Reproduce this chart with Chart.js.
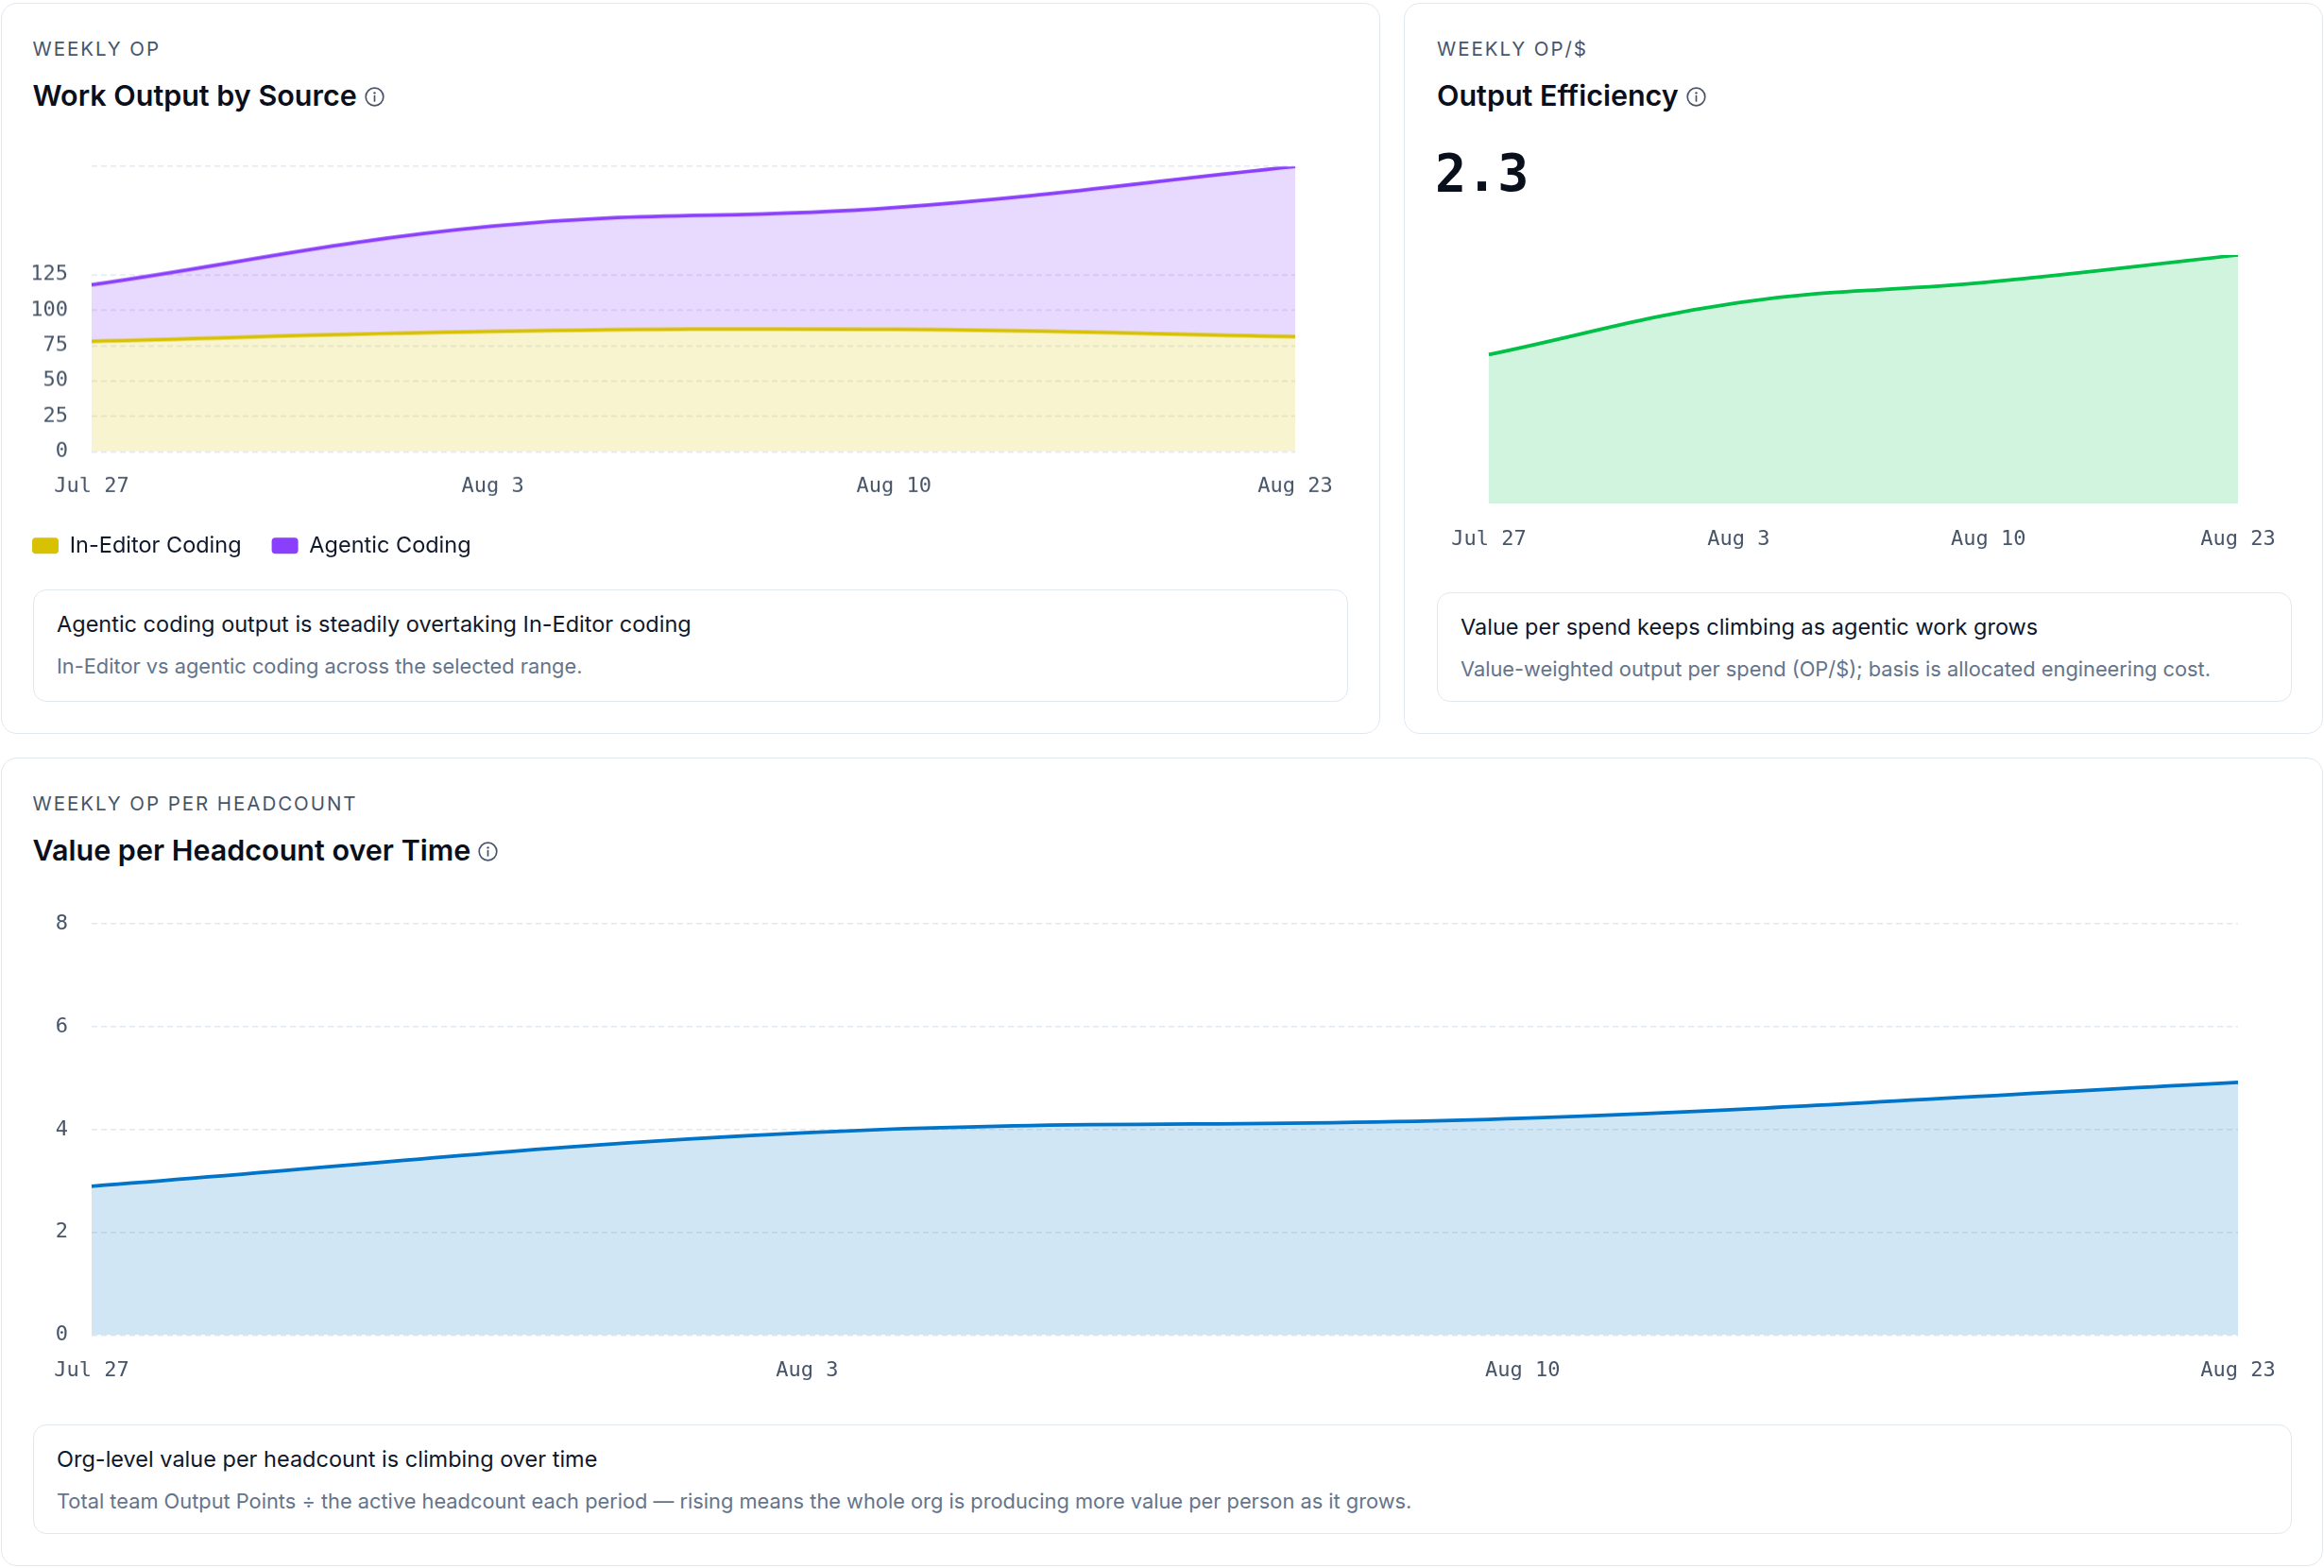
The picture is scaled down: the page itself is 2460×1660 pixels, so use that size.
<!DOCTYPE html>
<html>
<head>
<meta charset="utf-8">
<title>Weekly OP</title>
<script src="https://cdn.jsdelivr.net/npm/chart.js@4.4.1/dist/chart.umd.min.js"></script>
<style>
  html, body { margin: 0; padding: 0; background: #fff; }
  body { width: 2460px; height: 1660px; position: relative; overflow: hidden; font-family: Inter, "Noto Sans", sans-serif; }
  .card { position: absolute; box-sizing: border-box; border: 1.5px solid #e2e8f0; border-radius: 17px; background: #fff; }
  .abs { position: absolute; white-space: nowrap; line-height: normal; }
  .eyebrow { font-size: 20.5px; font-weight: 400; letter-spacing: 0.095em; color: #475569; }
  .title { font-size: 30.5px; font-weight: 600; color: #0a0f1c; display: flex; align-items: center; }
  .title svg { margin-left: 8px; transform: translateY(2px); }
  .insight { position: absolute; box-sizing: border-box; border: 1.5px solid #e2e8f0; border-radius: 14px; }
  .insight .head { left: 24.5px; top: 21px; font-size: 23.5px; color: #0f172a; }
  .insight .sub { left: 24.5px; top: 67px; font-size: 21.8px; color: #64748b; }
  .plot { position: absolute; }
  .big { font-family: "DejaVu Sans Mono", monospace; font-size: 55px; font-weight: 700; color: #0a0f1c; }
</style>
</head>
<body>

<div class="card" style="left:1px; top:3px; width:1460px; height:774px;"></div>
<div class="card" style="left:1486px; top:3px; width:973px; height:774px;"></div>
<div class="card" style="left:1px; top:802px; width:2458px; height:856px;"></div>

<!-- work output by source -->
<div class="abs eyebrow" style="left:34.5px; top:39px;">WEEKLY OP</div>
<div class="abs title" style="left:34.5px; top:81.5px;">Work Output by Source
  <svg width="21" height="21" viewBox="0 0 21 21"><circle cx="10.5" cy="10.5" r="9.3" fill="none" stroke="#475569" stroke-width="1.7"/><line x1="10.5" y1="9.5" x2="10.5" y2="15" stroke="#475569" stroke-width="1.7" stroke-linecap="round"/><circle cx="10.5" cy="6.4" r="1.2" fill="#475569"/></svg>
</div>
<div class="plot" style="left:2px; top:138px; width:1433px; height:460.5px;"><canvas id="outputChart"></canvas></div>
<div class="insight" style="left:34.5px; top:624px; width:1392.5px; height:118.5px;">
  <div class="abs head">Agentic coding output is steadily overtaking In-Editor coding</div>
  <div class="abs sub">In-Editor vs agentic coding across the selected range.</div>
</div>

<!-- output efficiency -->
<div class="abs eyebrow" style="left:1521px; top:39px;">WEEKLY OP/$</div>
<div class="abs title" style="left:1521px; top:81.5px;">Output Efficiency
  <svg width="21" height="21" viewBox="0 0 21 21"><circle cx="10.5" cy="10.5" r="9.3" fill="none" stroke="#475569" stroke-width="1.7"/><line x1="10.5" y1="9.5" x2="10.5" y2="15" stroke="#475569" stroke-width="1.7" stroke-linecap="round"/><circle cx="10.5" cy="6.4" r="1.2" fill="#475569"/></svg>
</div>
<div class="abs big" id="latestEfficiency" style="left:1519px; top:151px;"></div>
<div class="plot" style="left:1488px; top:250px; width:970px; height:358px;"><canvas id="efficiencyChart"></canvas></div>
<div class="insight" style="left:1520.5px; top:626.5px; width:905px; height:116px;">
  <div class="abs head">Value per spend keeps climbing as agentic work grows</div>
  <div class="abs sub">Value-weighted output per spend (OP/$); basis is allocated engineering cost.</div>
</div>

<!-- value per headcount -->
<div class="abs eyebrow" style="left:34.5px; top:838px;">WEEKLY OP PER HEADCOUNT</div>
<div class="abs title" style="left:34.5px; top:880.5px;">Value per Headcount over Time
  <svg width="21" height="21" viewBox="0 0 21 21"><circle cx="10.5" cy="10.5" r="9.3" fill="none" stroke="#475569" stroke-width="1.7"/><line x1="10.5" y1="9.5" x2="10.5" y2="15" stroke="#475569" stroke-width="1.7" stroke-linecap="round"/><circle cx="10.5" cy="6.4" r="1.2" fill="#475569"/></svg>
</div>
<div class="plot" style="left:2px; top:940px; width:2456px; height:548px;"><canvas id="headcountChart"></canvas></div>
<div class="insight" style="left:34.5px; top:1508px; width:2391px; height:116px;">
  <div class="abs head">Org-level value per headcount is climbing over time</div>
  <div class="abs sub">Total team Output Points ÷ the active headcount each period — rising means the whole org is producing more value per person as it grows.</div>
</div>

<script>
const weeks = ['Jul 27', 'Aug 3', 'Aug 10', 'Aug 23'];
const inEditorOP = [78, 85, 86.5, 81.3];
const agenticOP = [40, 74.5, 86, 120.3];
const outputTicks = [0, 25, 50, 75, 100, 125];
const opPerDollar = [1.38, 1.86, 2.05, 2.3];
const opPerHeadcount = [2.9, 3.94, 4.22, 4.92];
const headcountTicks = [0, 2, 4, 6, 8];

Chart.defaults.font.family = 'Inter';
Chart.defaults.animation = false;

const tickFont = { family: '"DejaVu Sans Mono", monospace', size: 22 };
const tickColor = '#475569';
const xAxis = {
    grid: { display: false, drawTicks: false },
    border: { display: false },
    ticks: { font: tickFont, color: tickColor, padding: 24, maxRotation: 0, autoSkip: false }
};
const dashedGrid = { color: '#e2e8f0', lineWidth: 1.5, drawTicks: false };
const lineStyle = { line: { borderWidth: 3.75, tension: 0.4 }, point: { radius: 0, hoverRadius: 0 } };

// stacked total sets the top of the axis
const outputMax = Math.max(...inEditorOP.map((v, i) => v + agenticOP[i]));

new Chart(document.getElementById('outputChart'), {
    type: 'line',
    data: {
        labels: weeks,
        datasets: [
            { label: 'In-Editor Coding', data: inEditorOP, borderColor: '#d8c100', backgroundColor: 'rgba(220, 196, 0, 0.19)', fill: 'origin' },
            { label: 'Agentic Coding', data: agenticOP, borderColor: '#8a3ffc', backgroundColor: 'rgba(138, 63, 252, 0.2)', fill: '-1' }
        ]
    },
    options: {
        responsive: true,
        maintainAspectRatio: false,
        layout: { padding: { top: 0, right: 64, left: 0, bottom: 0 } },
        elements: lineStyle,
        plugins: {
            tooltip: { enabled: false },
            legend: {
                position: 'bottom',
                align: 'start',
                labels: {
                    boxWidth: 28,
                    boxHeight: 17,
                    useBorderRadius: true,
                    borderRadius: 4,
                    padding: 32,
                    color: '#0f172a',
                    font: { size: 23.5 },
                    generateLabels: (chart) => Chart.defaults.plugins.legend.labels.generateLabels(chart)
                        .map(item => Object.assign(item, { fillStyle: item.strokeStyle, lineWidth: 0 }))
                }
            }
        },
        scales: {
            x: Object.assign({}, xAxis, { afterFit: (s) => { s.height = 55.5; } }),
            y: {
                stacked: true,
                min: 0,
                max: outputMax,
                grid: dashedGrid,
                border: { display: false, dash: [6, 4] },
                ticks: {
                    font: tickFont,
                    color: tickColor,
                    padding: 25,
                    callback: (v) => outputTicks.includes(v) ? v : ''
                },
                afterBuildTicks: (s) => { s.ticks = outputTicks.concat(outputMax).map(v => ({ value: v })); },
                afterFit: (s) => { s.width = 95; }
            }
        }
    }
});

document.getElementById('latestEfficiency').textContent = opPerDollar[opPerDollar.length - 1].toFixed(1);

new Chart(document.getElementById('efficiencyChart'), {
    type: 'line',
    data: {
        labels: weeks,
        datasets: [
            { label: 'OP/$', data: opPerDollar, borderColor: '#00c048', backgroundColor: 'rgba(0, 192, 72, 0.18)', fill: 'origin' }
        ]
    },
    options: {
        responsive: true,
        maintainAspectRatio: false,
        layout: { padding: { top: 20, right: 89, left: 88, bottom: 0 } },
        elements: lineStyle,
        plugins: { legend: { display: false }, tooltip: { enabled: false } },
        scales: {
            x: xAxis,
            y: { display: false, min: 0, max: Math.max(...opPerDollar) }
        }
    }
});

new Chart(document.getElementById('headcountChart'), {
    type: 'line',
    data: {
        labels: weeks,
        datasets: [
            { label: 'OP per headcount', data: opPerHeadcount, borderColor: '#0074c8', backgroundColor: 'rgba(0, 116, 200, 0.18)', fill: 'origin' }
        ]
    },
    options: {
        responsive: true,
        maintainAspectRatio: false,
        layout: { padding: { top: 0, right: 89, left: 0, bottom: 0 } },
        elements: lineStyle,
        plugins: { legend: { display: false }, tooltip: { enabled: false } },
        scales: {
            x: xAxis,
            y: {
                min: headcountTicks[0],
                max: headcountTicks[headcountTicks.length - 1],
                grid: dashedGrid,
                border: { display: false, dash: [6, 4] },
                ticks: { font: tickFont, color: tickColor, padding: 25, stepSize: 2 },
                afterBuildTicks: (s) => { s.ticks = headcountTicks.map(v => ({ value: v })); },
                afterFit: (s) => { s.width = 95; }
            }
        }
    }
});
</script>
</body>
</html>
